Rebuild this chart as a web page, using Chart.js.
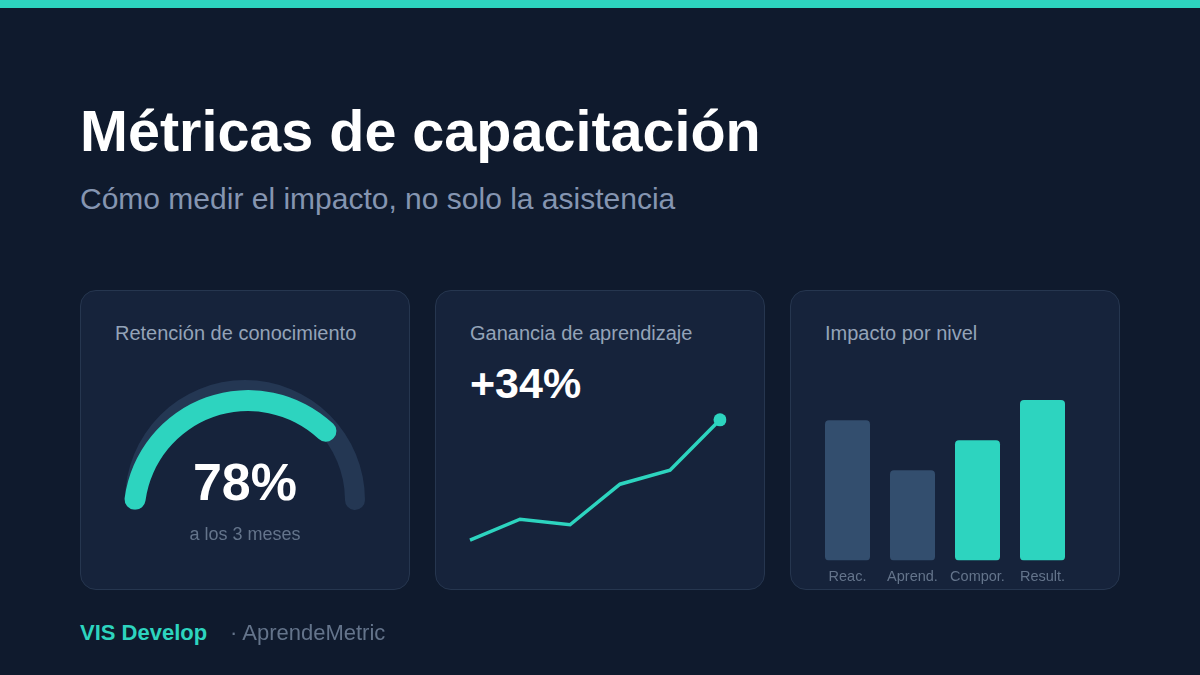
<!DOCTYPE html>
<html lang="es">
<head>
<meta charset="utf-8">
<title>Métricas de capacitación</title>
<script src="https://cdn.jsdelivr.net/npm/chart.js@4.4.1/dist/chart.umd.min.js"></script>
<style>
  html, body { margin: 0; padding: 0; }
  body {
    width: 1200px; height: 675px; overflow: hidden;
    background: #0f1a2d;
    font-family: "Liberation Sans", Arial, sans-serif;
    position: relative;
  }
  .topbar { position: absolute; left: 0; top: 0; width: 1200px; height: 8px; background: #2dd4bf; }
  .txt { position: absolute; line-height: 1; white-space: nowrap; }
  .card {
    position: absolute; top: 290px; width: 328px; height: 298px;
    background: #16233b; border: 1px solid #26364f; border-radius: 16px;
  }
  canvas { position: absolute; }
</style>
</head>
<body>
<div class="topbar"></div>

<div class="txt" style="left:80px; top:103px; font-size:57.5px; font-weight:bold; color:#ffffff;">Métricas de capacitación</div>
<div class="txt" style="left:80px; top:184px; font-size:30px; color:#8595b1;">Cómo medir el impacto, no solo la asistencia</div>

<div class="card" style="left:80px;"></div>
<div class="card" style="left:435px;"></div>
<div class="card" style="left:790px;"></div>

<div class="txt" style="left:115px; top:323px; font-size:20px; color:#94a3b8;">Retención de conocimiento</div>
<div class="txt" style="left:470px; top:323px; font-size:20px; color:#94a3b8;">Ganancia de aprendizaje</div>
<div class="txt" style="left:825px; top:323px; font-size:20px; color:#94a3b8;">Impacto por nivel</div>

<!-- indicador de retención -->
<div style="position:absolute; left:115px; top:370px; width:260px; height:151px;">
  <canvas id="gaugeTrack" width="260" height="151" style="left:0; top:0;"></canvas>
</div>
<div id="gaugeValueBox" style="position:absolute; left:0; top:0; width:300px; height:300px;">
  <canvas id="gaugeValue" width="300" height="300" style="left:0; top:0;"></canvas>
</div>
<div class="txt" id="gaugeLabel" style="left:145px; width:200px; text-align:center; top:456px; font-size:52px; font-weight:bold; color:#ffffff;"></div>
<div class="txt" style="left:145px; width:200px; text-align:center; top:525px; font-size:18px; color:#64748b;">a los 3 meses</div>

<!-- línea -->
<div class="txt" id="gainLabel" style="left:470px; top:362px; font-size:43px; font-weight:bold; color:#ffffff;"></div>
<div style="position:absolute; left:460px; top:400px; width:270px; height:160px;">
  <canvas id="lineChart" width="270" height="160" style="left:0; top:0;"></canvas>
</div>

<!-- barras -->
<div style="position:absolute; left:815px; top:350px; width:260px; height:244px;">
  <canvas id="barChart" width="260" height="244" style="left:0; top:0;"></canvas>
</div>

<div class="txt" style="left:80px; top:622px; font-size:22px; font-weight:bold; color:#2dd4bf;">VIS Develop</div>
<div class="txt" style="left:230px; top:622px; font-size:22px; color:#64748b;">· AprendeMetric</div>

<script>
// Datos
var retencion = 78;          // % a los 3 meses
var ganancia = 34;           // % de ganancia
var semanas = ['S1', 'S2', 'S3', 'S4', 'S5', 'S6'];
var puntajes = [7, 22, 18, 47, 57, 93];
var niveles = ['Reac.', 'Aprend.', 'Compor.', 'Result.'];
var impacto = [70, 45, 60, 80];
var coloresNivel = ['#334e6e', '#334e6e', '#2dd4bf', '#2dd4bf'];

var teal = '#2dd4bf';
var pista = '#243753';

Chart.defaults.font.family = '"Liberation Sans", Arial, sans-serif';
Chart.defaults.animation = false;
Chart.defaults.responsive = false;
Chart.defaults.plugins.legend.display = false;
Chart.defaults.plugins.tooltip.enabled = false;

document.getElementById('gaugeLabel').textContent = retencion + '%';
document.getElementById('gainLabel').textContent = '+' + ganancia + '%';

// Pista: medio anillo, alargado un poco en cada extremo para imitar el remate redondo
var capa = 5.2;
var arco = 180 + 2 * capa;
new Chart(document.getElementById('gaugeTrack').getContext('2d'), {
    type: 'doughnut',
    data: {
        datasets: [{
            data: [100],
            backgroundColor: [pista],
            borderWidth: 0,
            borderRadius: 10
        }]
    },
    options: {
        rotation: -90 - capa,
        circumference: arco,
        cutout: '83.33%',
        layout: { padding: 10 },
        events: []
    }
});

// Valor: en el original el arco turquesa es algo más plano que la pista
// (otro centro y radio), así que se dibuja aparte y se recoloca
var tramoValor = 135.6;   // grados que cubre el valor, con remates
var gaugeValue = new Chart(document.getElementById('gaugeValue').getContext('2d'), {
    type: 'doughnut',
    data: {
        datasets: [{
            data: [retencion, 100 - retencion],
            backgroundColor: [teal, 'rgba(0,0,0,0)'],
            borderWidth: 0,
            borderRadius: 10
        }]
    },
    options: {
        rotation: -87.4,
        circumference: tramoValor * 100 / retencion,
        radius: 124.5,
        cutout: (103.5 / 124.5 * 100) + '%',
        events: []
    }
});
var centro = gaugeValue.getDatasetMeta(0).data[0];
var caja = document.getElementById('gaugeValueBox');
caja.style.left = (248 - centro.x) + 'px';
caja.style.top = (515 - centro.y) + 'px';

// Línea de ganancia de aprendizaje
new Chart(document.getElementById('lineChart').getContext('2d'), {
    type: 'line',
    data: {
        labels: semanas,
        datasets: [{
            data: puntajes,
            borderColor: teal,
            borderWidth: 3.5,
            backgroundColor: teal,
            pointRadius: [0, 0, 0, 0, 0, 6.5],
            pointBorderWidth: 0,
            tension: 0,
            fill: false
        }]
    },
    options: {
        layout: { padding: 10 },
        scales: {
            x: { display: false, offset: false },
            y: { display: false, min: 0, max: 100 }
        },
        events: []
    }
});

// Barras por nivel
var barChart = new Chart(document.getElementById('barChart').getContext('2d'), {
    type: 'bar',
    data: {
        labels: niveles,
        datasets: [{
            data: impacto,
            backgroundColor: coloresNivel,
            borderRadius: 4,
            borderSkipped: false,
            categoryPercentage: 1,
            barPercentage: 45 / 65
        }]
    },
    options: {
        layout: { padding: { top: 10, left: 0, right: 0, bottom: 0 } },
        scales: {
            x: {
                grid: { display: false, drawTicks: false },
                border: { display: false },
                ticks: { color: '#64748b', font: { size: 14.5 }, padding: 8, maxRotation: 0, autoSkip: false }
            },
            y: { display: false, min: 0, max: 100 }
        },
        events: []
    }
});
</script>
</body>
</html>
